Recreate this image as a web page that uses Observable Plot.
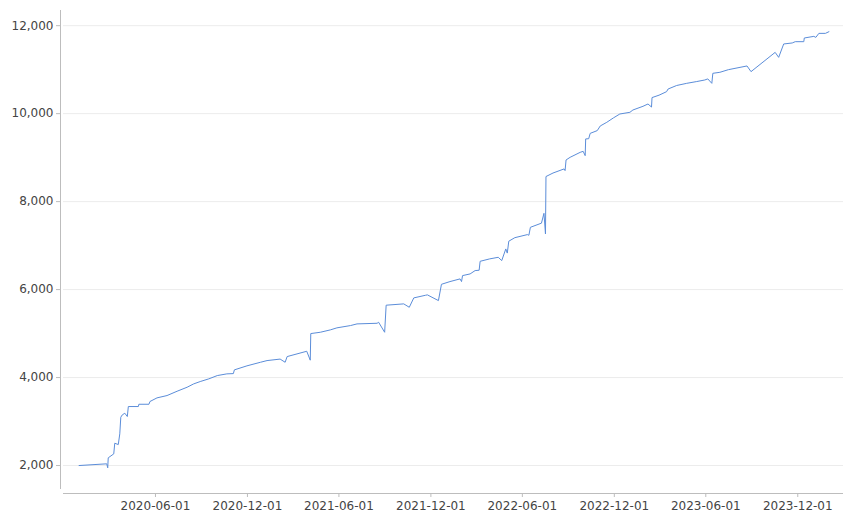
<!DOCTYPE html>
<html>
<head>
<meta charset="utf-8">
<script src="https://cdn.jsdelivr.net/npm/d3@7"></script>
<script src="https://cdn.jsdelivr.net/npm/@observablehq/plot@0.6"></script>
<style>
  html, body { margin: 0; padding: 0; background: #fff; }
  #chart { width: 855px; height: 515px; }
</style>
</head>
<body>
<div id="chart"></div>
<script>
const dates = [
  "2020-01-01","2020-02-25","2020-02-27","2020-02-28","2020-03-10","2020-03-12","2020-03-19","2020-03-22",
  "2020-03-24","2020-03-27","2020-04-01","2020-04-06","2020-04-08","2020-04-28","2020-04-29","2020-05-19",
  "2020-05-21","2020-06-04","2020-06-24","2020-07-14","2020-08-03","2020-08-16","2020-08-29","2020-09-15",
  "2020-10-02","2020-10-21","2020-11-03","2020-11-05","2020-11-30","2020-12-27","2021-01-09","2021-02-04",
  "2021-02-14","2021-02-18","2021-03-29","2021-04-05","2021-04-06","2021-04-25","2021-05-15","2021-05-28",
  "2021-06-24","2021-07-07","2021-08-16","2021-08-19","2021-08-31","2021-09-03","2021-10-08","2021-10-19",
  "2021-10-28","2021-11-20","2021-11-24","2021-12-16","2021-12-22","2022-01-08","2022-01-28","2022-01-31",
  "2022-02-02","2022-02-17","2022-02-27","2022-03-07","2022-03-09","2022-03-28","2022-04-14","2022-04-21",
  "2022-04-29","2022-05-02","2022-05-05","2022-05-17","2022-06-11","2022-06-14","2022-06-17","2022-07-09",
  "2022-07-14","2022-07-17","2022-07-18","2022-08-01","2022-08-23","2022-08-25","2022-08-27","2022-09-04",
  "2022-09-24","2022-09-30","2022-10-04","2022-10-05","2022-10-11","2022-10-14","2022-10-28","2022-11-03",
  "2022-11-16","2022-11-29","2022-12-12","2023-01-01","2023-01-07","2023-01-27","2023-02-06","2023-02-13",
  "2023-02-14","2023-02-28","2023-03-15","2023-03-18","2023-04-04","2023-04-24","2023-05-14","2023-05-30",
  "2023-06-05","2023-06-13","2023-06-15","2023-06-29","2023-07-16","2023-08-22","2023-08-30","2023-10-17",
  "2023-10-24","2023-11-03","2023-11-20","2023-11-26","2023-12-13","2023-12-14","2024-01-02","2024-01-06",
  "2024-01-12","2024-01-25","2024-02-01"
];
const values = [
  2000,2039,1948,2175,2265,2507,2477,2720,
  3098,3152,3189,3114,3341,3341,3393,3393,
  3455,3538,3591,3689,3780,3856,3909,3970,
  4045,4084,4090,4175,4266,4348,4386,4420,
  4348,4477,4598,4395,5000,5030,5084,5130,
  5182,5220,5234,5257,5030,5645,5675,5598,
  5811,5870,5880,5750,6120,6182,6243,6182,
  6318,6356,6432,6440,6643,6698,6734,6659,
  6924,6830,7100,7180,7250,7235,7416,7510,
  7734,7265,8570,8650,8743,8705,8947,9007,
  9120,9143,9045,9425,9430,9552,9614,9720,
  9803,9902,9992,10030,10083,10167,10220,10150,
  10365,10420,10500,10560,10640,10689,10730,10765,
  10790,10689,10917,10940,11000,11084,10955,11393,
  11280,11584,11607,11636,11636,11720,11757,11734,
  11825,11825,11863
];
const yTicks = [2000, 4000, 6000, 8000, 10000, 12000];
const xTicks = ["2020-06-01","2020-12-01","2021-06-01","2021-12-01","2022-06-01","2022-12-01","2023-06-01","2023-12-01"];
const xDomain = ["2019-12-01", "2024-03-01"];
const yDomain = [1455, 12345];

const data = dates.map((d, i) => ({date: new Date(d), value: values[i]}));
const xTickDates = xTicks.map(d => new Date(d));
const xDom = xDomain.map(d => new Date(d));

const fmtDate = d3.utcFormat("%Y-%m-%d");

const chart = Plot.plot({
  width: 855,
  height: 515,
  marginLeft: 63,
  marginRight: 12,
  marginTop: 10,
  marginBottom: 26,
  style: {fontFamily: "DejaVu Sans", fontSize: "12px", color: "#444", background: "#fff"},
  x: {type: "utc", domain: xDom},
  y: {domain: yDomain},
  marks: [
    Plot.gridY(yTicks, {stroke: "#ececec", strokeOpacity: 1}),
    Plot.ruleX([xDom[0]], {dx: -3, stroke: "#bdbdbd"}),
    Plot.ruleY([yDomain[0]], {dy: 4, stroke: "#bdbdbd"}),
    Plot.axisY(yTicks, {dx: -3, tickSize: 4, tickPadding: 3, stroke: "#bdbdbd", fill: "#444", label: null, tickFormat: d => d.toLocaleString("en-US")}),
    Plot.axisX(xTickDates, {dy: 4, tickSize: 4, tickPadding: 4, stroke: "#bdbdbd", fill: "#444", label: null, tickFormat: fmtDate}),
    Plot.line(data, {x: "date", y: "value", stroke: "#5b8dd9", strokeWidth: 1})
  ]
});
document.getElementById("chart").appendChild(chart);
</script>
</body>
</html>
